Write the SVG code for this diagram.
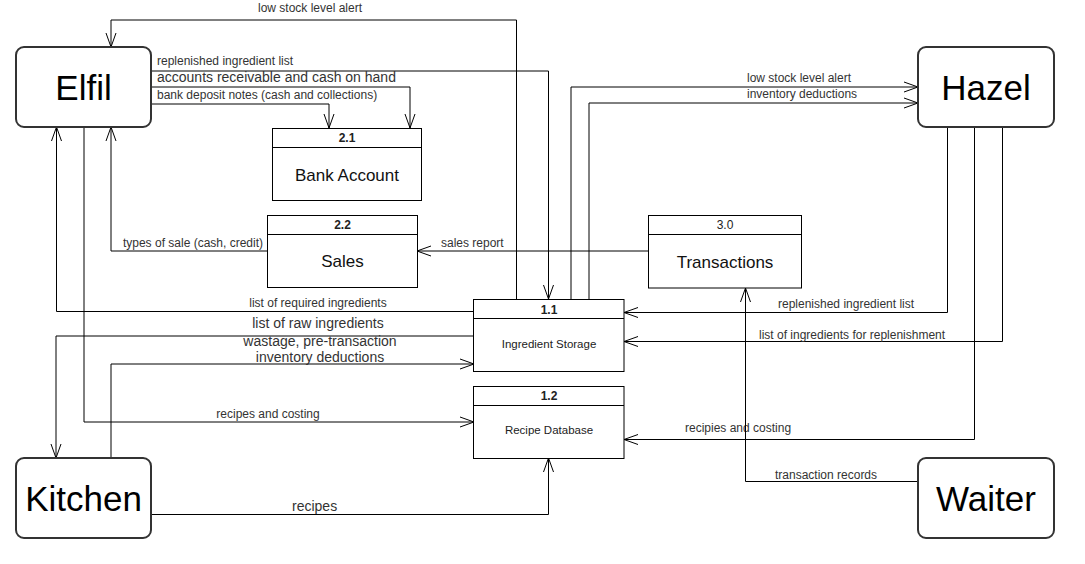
<svg xmlns="http://www.w3.org/2000/svg" width="1085" height="564" viewBox="0 0 1085 564">
<style>
text{font-family:"Liberation Sans",Arial,sans-serif}
.ent{fill:#fff;stroke:#333;stroke-width:2}
.ent-t{font-size:35px;fill:#000;text-anchor:middle}
.box{fill:#fff;stroke:#000;stroke-width:1}
.hd{stroke:#000;stroke-width:1}
.num{font-size:12px;fill:#222;text-anchor:middle;font-weight:bold}
.num-r{font-size:12px;fill:#222;text-anchor:middle}
.big{font-size:17px;fill:#111;text-anchor:middle}
.sm{font-size:11.5px;fill:#222;text-anchor:middle}
.lbl{font-size:12px;fill:#333}
.lbl14{font-size:14px;fill:#333}
.c{fill:none;stroke:#000;stroke-width:1}
.mid{text-anchor:middle}
</style>
<defs>
<marker id="arr" markerUnits="userSpaceOnUse" viewBox="-15 -6 16 12" refX="0" refY="0" markerWidth="16" markerHeight="12" orient="auto">
<path d="M-14,-5 L0,0 L-14,5" fill="none" stroke="#000" stroke-width="1"/>
</marker>
</defs>
<rect width="1085" height="564" fill="#fff"/>

<g id="connectors">
<!-- low stock level alert: 1.1 -> Elfil -->
<path class="c" d="M516.5,299 V20 H111 V47" marker-end="url(#arr)"/>
<text class="lbl mid" x="310" y="12">low stock level alert</text>
<!-- replenished ingredient list: Elfil -> 1.1 -->
<path class="c" d="M151,71 H548.5 V299" marker-end="url(#arr)"/>
<text class="lbl" x="157" y="65">replenished ingredient list</text>
<!-- accounts receivable: Elfil -> 2.1 -->
<path class="c" d="M151,87 H410 V128" marker-end="url(#arr)"/>
<text class="lbl14" x="157" y="82">accounts receivable and cash on hand</text>
<!-- bank deposit notes: Elfil -> 2.1 -->
<path class="c" d="M151,104 H329 V128" marker-end="url(#arr)"/>
<text class="lbl" x="157" y="99">bank deposit notes (cash and collections)</text>
<!-- types of sale: Sales -> Elfil -->
<path class="c" d="M267,251 H111 V127" marker-end="url(#arr)"/>
<text class="lbl" x="263" y="247" text-anchor="end">types of sale (cash, credit)</text>
<!-- sales report: Transactions -> Sales -->
<path class="c" d="M649,251 H417" marker-end="url(#arr)"/>
<text class="lbl" x="441" y="247">sales report</text>
<!-- list of required ingredients: 1.1 -> Elfil -->
<path class="c" d="M474,311.5 H56.5 V127" marker-end="url(#arr)"/>
<text class="lbl mid" x="318" y="307">list of required ingredients</text>
<!-- list of raw ingredients: 1.1 -> Kitchen -->
<path class="c" d="M474,336 H56 V458" marker-end="url(#arr)"/>
<text class="lbl14 mid" x="318" y="328">list of raw ingredients</text>
<!-- wastage: Kitchen -> 1.1 -->
<path class="c" d="M111,458 V364 H474" marker-end="url(#arr)"/>
<text class="lbl14 mid" x="320" y="346">wastage, pre-transaction</text>
<text class="lbl14 mid" x="320" y="362">inventory deductions</text>
<!-- recipes and costing: Elfil -> 1.2 -->
<path class="c" d="M84,127 V422 H474" marker-end="url(#arr)"/>
<text class="lbl mid" x="268" y="418">recipes and costing</text>
<!-- recipes: Kitchen -> 1.2 -->
<path class="c" d="M151,514.5 H548.5 V458" marker-end="url(#arr)"/>
<text class="lbl14" x="292" y="511">recipes</text>
<!-- low stock level alert: 1.1 -> Hazel -->
<path class="c" d="M571,299 V87 H918" marker-end="url(#arr)"/>
<text class="lbl" x="747" y="82">low stock level alert</text>
<!-- inventory deductions: 1.1 -> Hazel -->
<path class="c" d="M589,299 V103 H918" marker-end="url(#arr)"/>
<text class="lbl" x="747" y="98">inventory deductions</text>
<!-- replenished ingredient list: Hazel -> 1.1 -->
<path class="c" d="M947.5,127 V312.5 H624" marker-end="url(#arr)"/>
<text class="lbl" x="778" y="308">replenished ingredient list</text>
<!-- list of ingredients for replenishment: Hazel -> 1.1 -->
<path class="c" d="M1002.5,127 V341.5 H624" marker-end="url(#arr)"/>
<text class="lbl" x="759" y="339">list of ingredients for replenishment</text>
<!-- recipies and costing: Hazel -> 1.2 -->
<path class="c" d="M974.5,127 V439.5 H624" marker-end="url(#arr)"/>
<text class="lbl" x="685" y="432">recipies and costing</text>
<!-- transaction records: Waiter -> Transactions -->
<path class="c" d="M918,481.5 H745.5 V288" marker-end="url(#arr)"/>
<text class="lbl" x="775" y="479">transaction records</text>
</g>

<g id="elfil">
<rect class="ent" x="16" y="47" width="135" height="80" rx="8"/>
<text class="ent-t" x="83.5" y="100">Elfil</text>
</g>
<g id="hazel">
<rect class="ent" x="918" y="47" width="136" height="80" rx="8"/>
<text class="ent-t" x="986" y="100">Hazel</text>
</g>
<g id="kitchen">
<rect class="ent" x="16" y="458" width="135" height="80" rx="8"/>
<text class="ent-t" x="83.5" y="511">Kitchen</text>
</g>
<g id="waiter">
<rect class="ent" x="918" y="458" width="136" height="80" rx="8"/>
<text class="ent-t" x="986" y="511">Waiter</text>
</g>

<g id="p21">
<rect class="box" x="272.5" y="128.5" width="149" height="72"/>
<line class="hd" x1="272.5" y1="147.5" x2="421.5" y2="147.5"/>
<text class="num" x="347" y="142">2.1</text>
<text class="big" x="347" y="181">Bank Account</text>
</g>
<g id="p22">
<rect class="box" x="267.5" y="215.5" width="150" height="72"/>
<line class="hd" x1="267.5" y1="234.5" x2="417.5" y2="234.5"/>
<text class="num" x="342.5" y="229">2.2</text>
<text class="big" x="342.5" y="267">Sales</text>
</g>
<g id="p30">
<rect class="box" x="648.5" y="215.5" width="153" height="72.5"/>
<line class="hd" x1="648.5" y1="234.5" x2="801.5" y2="234.5"/>
<text class="num-r" x="725" y="228.5">3.0</text>
<text class="big" x="725" y="267.5">Transactions</text>
</g>
<g id="p11">
<rect class="box" x="473.5" y="299.5" width="150.5" height="72"/>
<line class="hd" x1="473.5" y1="318.5" x2="624" y2="318.5"/>
<text class="num" x="549" y="314">1.1</text>
<text class="sm" x="549" y="348">Ingredient Storage</text>
</g>
<g id="p12">
<rect class="box" x="473.5" y="386.5" width="150.5" height="72"/>
<line class="hd" x1="473.5" y1="405.5" x2="624" y2="405.5"/>
<text class="num" x="549" y="400">1.2</text>
<text class="sm" x="549" y="434">Recipe Database</text>
</g>
</svg>
